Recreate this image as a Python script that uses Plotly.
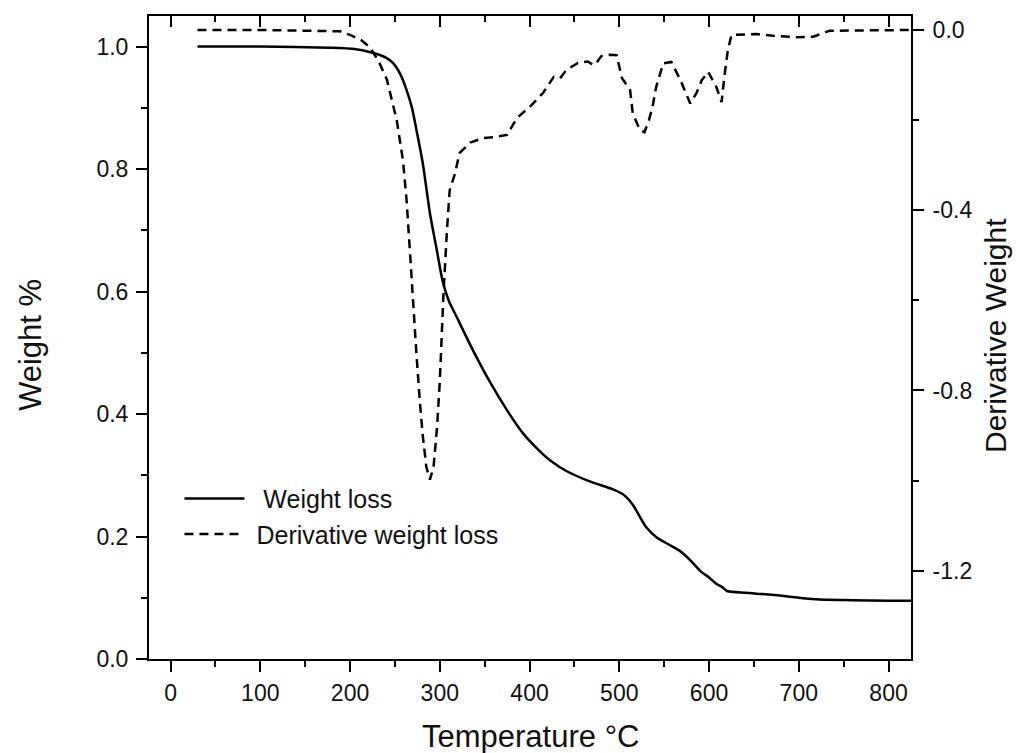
import plotly.graph_objects as go

# ---- data ----
temp_w = [30, 100, 178, 205, 225, 240, 248, 256, 263, 269, 274, 281, 289, 297, 303, 310,
          319, 337, 356, 375, 393, 411, 425, 441, 467, 493, 505, 515, 530, 542, 555, 567,
          580, 590, 600, 608, 615, 620, 640, 670, 700, 723, 760, 800, 825]
weight = [1.0, 1.0, 0.998, 0.996, 0.99, 0.982, 0.973, 0.955, 0.929, 0.9, 0.864, 0.81, 0.728,
          0.665, 0.618, 0.585, 0.558, 0.504, 0.452, 0.406, 0.368, 0.34, 0.322, 0.307, 0.29,
          0.277, 0.268, 0.252, 0.215, 0.198, 0.187, 0.177, 0.16, 0.144, 0.133, 0.123, 0.117,
          0.111, 0.108, 0.105, 0.1, 0.097, 0.096, 0.095, 0.095]

temp_d = [30, 100, 160, 189, 200, 212, 222, 232, 241, 252, 259, 263, 267, 270, 274, 278,
          281, 285, 289, 293, 297, 300, 304, 308, 311, 317, 322, 334, 348, 360, 375, 386,
          400, 415, 427, 434, 441, 454, 465, 471, 475, 480, 490, 497, 503, 512, 515, 523,
          528, 533, 537, 541, 549, 558, 568, 579, 586, 592, 599, 608, 614, 617, 621, 625,
          653, 671, 697, 716, 734, 771, 801, 825]
deriv = [0.0, 0.0, -0.002, -0.003, -0.011, -0.022, -0.038, -0.07, -0.11, -0.2, -0.29, -0.378,
         -0.5, -0.607, -0.72, -0.83, -0.9, -0.97, -0.998, -0.97, -0.88, -0.78, -0.59, -0.444,
         -0.356, -0.318, -0.273, -0.25, -0.24, -0.238, -0.233, -0.195, -0.171, -0.14, -0.104,
         -0.107, -0.089, -0.073, -0.07, -0.078, -0.072, -0.058, -0.055, -0.056, -0.107, -0.133,
         -0.185, -0.222, -0.227, -0.2, -0.171, -0.127, -0.074, -0.071, -0.111, -0.163, -0.14,
         -0.111, -0.093, -0.126, -0.16, -0.104, -0.044, -0.011, -0.009, -0.013, -0.016, -0.015,
         -0.002, -0.001, 0.0, 0.0]

x_ticks = [0, 100, 200, 300, 400, 500, 600, 700, 800]
y_ticks = [0.0, 0.2, 0.4, 0.6, 0.8, 1.0]
y_tick_text = ["0.0", "0.2", "0.4", "0.6", "0.8", "1.0"]
y2_ticks = [0.0, -0.4, -0.8, -1.2]
y2_tick_text = ["0.0", "-0.4", "-0.8", "-1.2"]

FONT = "Liberation Sans, Arial, sans-serif"
TICKFONT = dict(family=FONT, size=23, color="#111111")
TITLEFONT = dict(family=FONT, size=31, color="#111111")
XR = [-24, 825]

fig = go.Figure()
fig.add_trace(go.Scatter(x=temp_w, y=weight, mode="lines", name="  Weight loss",
                         line=dict(color="black", width=2.5, shape="spline", smoothing=0.6),
                         xaxis="x", yaxis="y"))
fig.add_trace(go.Scatter(x=temp_d, y=deriv, mode="lines", name=" Derivative weight loss",
                         line=dict(color="black", width=2.5, dash="9px,6px"),
                         xaxis="x2", yaxis="y2"))

axis_common = dict(showgrid=False, zeroline=False, showline=True, linecolor="black",
                   linewidth=2, tickcolor="black", tickwidth=1.5, ticklen=11)

fig.update_layout(
    width=1016, height=753,
    margin=dict(l=149, r=105, t=16, b=94, pad=0),
    paper_bgcolor="white", plot_bgcolor="white",
    showlegend=True,
    legend=dict(x=0.04, y=0.285, xanchor="left", yanchor="top",
                bgcolor="rgba(0,0,0,0)", font=dict(family=FONT, size=25, color="#111111"),
                itemwidth=60, tracegroupgap=4),
    xaxis=dict(range=XR, tickvals=x_ticks, ticks="outside", tickfont=TICKFONT,
               minor=dict(dtick=50, tick0=0, ticks="outside", ticklen=6, tickcolor="black", tickwidth=1.5),
               ticklabelstandoff=1, **axis_common),
    xaxis2=dict(range=XR, overlaying="x", side="top", anchor="y2", tickvals=x_ticks,
                ticks="inside", showticklabels=False,
                minor=dict(dtick=50, tick0=0, ticks="inside", ticklen=6, tickcolor="black", tickwidth=1.5),
                **axis_common),
    yaxis=dict(range=[0, 1.05], tickvals=y_ticks, ticktext=y_tick_text, ticks="outside",
               tickfont=TICKFONT, ticklabelstandoff=3,
               minor=dict(dtick=0.1, tick0=0, ticks="outside", ticklen=6, tickcolor="black", tickwidth=1.5),
               **axis_common),
    yaxis2=dict(range=[-1.396, 0.031], overlaying="y", side="right", anchor="x2",
                tickvals=y2_ticks, ticktext=y2_tick_text, ticks="outside", tickfont=TICKFONT,
                ticklabelstandoff=4,
                minor=dict(dtick=0.2, tick0=0, ticks="outside", ticklen=6, tickcolor="black", tickwidth=1.5),
                **axis_common),
    annotations=[
        dict(text="Temperature °C", xref="paper", yref="paper", x=(530 - 149) / 762,
             y=-(736 - 659) / 643, xanchor="center", yanchor="middle", showarrow=False,
             font=TITLEFONT),
        dict(text="Weight %", xref="paper", yref="paper", x=-(149 - 30) / 762,
             y=(659 - 345) / 643, xanchor="center", yanchor="middle", showarrow=False,
             textangle=-90, font=TITLEFONT),
        dict(text="Derivative Weight", xref="paper", yref="paper", x=(995 - 149) / 762,
             y=(659 - 336) / 643, xanchor="center", yanchor="middle", showarrow=False,
             textangle=-90, font=dict(family=FONT, size=30, color="#111111")),
    ],
)

fig.write_html("out.html")
